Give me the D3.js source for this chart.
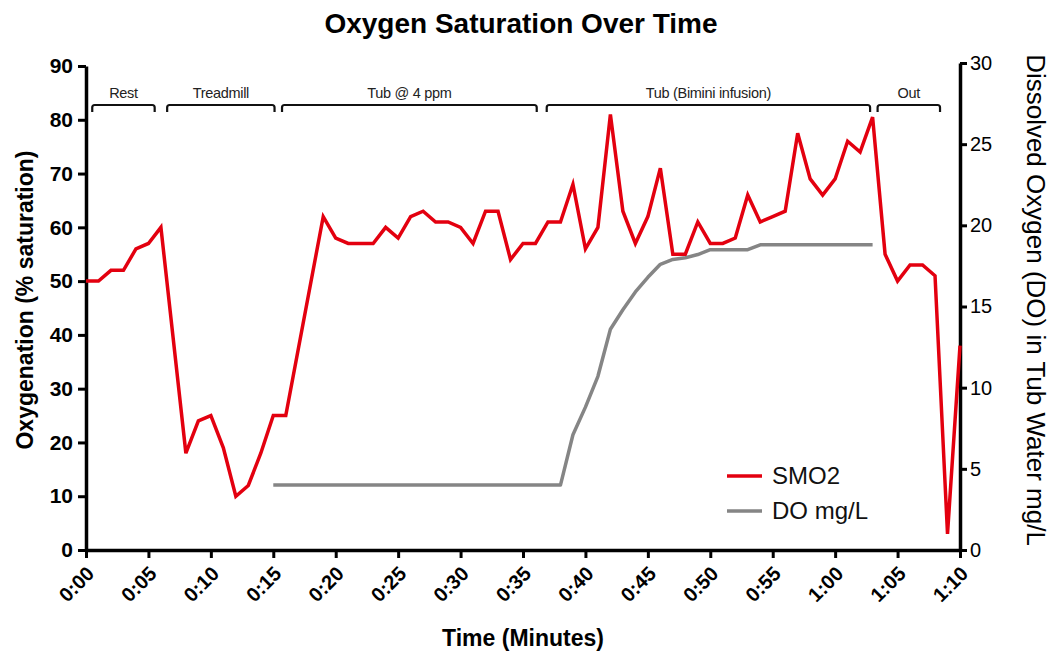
<!DOCTYPE html>
<html>
<head>
<meta charset="utf-8">
<script src="https://cdn.jsdelivr.net/npm/d3@7"></script>
<style>
  html, body { margin: 0; padding: 0; background: #fff; }
  svg { display: block; font-family: "Liberation Sans", Arial, Helvetica, sans-serif; }
</style>
</head>
<body>
<svg id="chart" width="1051" height="654"></svg>
<script>
// Muscle oxygen saturation (SMO2, %) by minute
const smoMinutes = [0,1,2,3,4,5,6,8,9,10,11,12,13,14,15,16,19,20,21,22,23,24,25,26,27,28,29,30,31,32,33,34,35,36,37,38,39,40,41,42,43,44,45,46,47,48,49,50,51,52,53,54,55,56,57,58,59,60,61,62,63,64,65,66,67,68,69,70];
const smoValues  = [50,50,52,52,56,57,60,18,24,25,19,10,12,18,25,25,62,58,57,57,57,60,58,62,63,61,61,60,57,63,63,54,57,57,61,61,68,56,60,81,63,57,62,71,55,55,61,57,57,58,66,61,62,63,77.5,69,66,69,76,74,80.5,55,50,53,53,51,3,38];

// Dissolved oxygen in the tub water (mg/L)
const doMinutes = [15,38,39,40,41,42,43,44,45,46,47,48,49,50,53,54,63];
const doValues  = [4,4,7.1,8.8,10.7,13.6,14.8,15.9,16.8,17.6,17.9,18,18.2,18.5,18.5,18.8,18.8];

// Session phases (start / end minute)
const phaseNames = ["Rest","Treadmill","Tub @ 4 ppm","Tub (Bimini infusion)","Out"];
const phaseStart = [0.5,6.5,15.7,36.9,63.4];
const phaseEnd   = [5.5,15.1,36.1,62.8,68.4];

// Axis ticks
const timeTicks = [0,5,10,15,20,25,30,35,40,45,50,55,60,65,70];
const leftTicks = [0,10,20,30,40,50,60,70,80,90];
const rightTicks = [0,5,10,15,20,25,30];

const seriesNames = ["SMO2","DO mg/L"];
const RED = "#e3000f", GRAY = "#858585";

const svg = d3.select("#chart");

const x = d3.scaleLinear().domain([0,70]).range([86,960]);
const yL = d3.scaleLinear().domain([0,90]).range([550,66]);
const yR = d3.scaleLinear().domain([0,30]).range([550,63]);

const fmtTime = m => Math.floor(m/60) + ":" + String(m % 60).padStart(2,"0");

// Title
svg.append("text").attr("x",521).attr("y",33).attr("text-anchor","middle")
  .attr("font-size",28).attr("font-weight","bold").text("Oxygen Saturation Over Time");

// X axis
const gx = svg.append("g").attr("transform","translate(0,550)")
  .call(d3.axisBottom(x).tickValues(timeTicks).tickFormat(fmtTime).tickSize(8).tickSizeOuter(0));
gx.select(".domain").attr("stroke","#000").attr("stroke-width",3.5);
gx.selectAll(".tick line").attr("stroke","#000").attr("stroke-width",3);
gx.selectAll(".tick text")
  .attr("font-size",20).attr("font-weight","bold").attr("fill","#000")
  .attr("text-anchor","end").attr("dy","0.35em").attr("y",0)
  .attr("transform","translate(4,20) rotate(-45)");

// Left axis
const gl = svg.append("g").attr("transform","translate(86,0)")
  .call(d3.axisLeft(yL).tickValues(leftTicks).tickSize(8).tickPadding(5).tickSizeOuter(0));
gl.select(".domain").attr("stroke","#000").attr("stroke-width",3.5);
gl.selectAll(".tick line").attr("stroke","#000").attr("stroke-width",3);
gl.selectAll(".tick text").attr("font-size",21).attr("font-weight","bold").attr("fill","#000");

// Right axis
const gr = svg.append("g").attr("transform","translate(960,0)")
  .call(d3.axisRight(yR).tickValues(rightTicks).tickSize(7).tickPadding(3).tickSizeOuter(0));
gr.select(".domain").attr("stroke","#000").attr("stroke-width",3.5);
gr.selectAll(".tick line").attr("stroke","#000").attr("stroke-width",3);
gr.selectAll(".tick text").attr("font-size",20).attr("fill","#000");

// Axis titles
svg.append("text").attr("transform","translate(33,300) rotate(-90)").attr("text-anchor","middle")
  .attr("font-size",23).attr("font-weight","bold").text("Oxygenation (% saturation)");
svg.append("text").attr("transform","translate(1027,300) rotate(90)").attr("text-anchor","middle")
  .attr("font-size",26).text("Dissolved Oxygen (DO) in Tub Water mg/L");
svg.append("text").attr("x",523).attr("y",646).attr("text-anchor","middle")
  .attr("font-size",23).attr("font-weight","bold").text("Time (Minutes)");

// Phase brackets
const bracketY = 105, hook = 7, r = 2.5;
phaseNames.forEach((name, i) => {
  const x1 = x(phaseStart[i]), x2 = x(phaseEnd[i]);
  const p = d3.path();
  p.moveTo(x1, bracketY + hook);
  p.lineTo(x1, bracketY + r);
  p.quadraticCurveTo(x1, bracketY, x1 + r, bracketY);
  p.lineTo(x2 - r, bracketY);
  p.quadraticCurveTo(x2, bracketY, x2, bracketY + r);
  p.lineTo(x2, bracketY + hook);
  svg.append("path").attr("d", p.toString()).attr("fill","none")
    .attr("stroke","#111").attr("stroke-width",2.2);
  svg.append("text").attr("x",(x1+x2)/2).attr("y",bracketY-7).attr("text-anchor","middle")
    .attr("font-size",14.5).attr("fill","#222").attr("letter-spacing","-0.3").text(name);
});

// Series lines
const doLine = d3.line().x((d,i) => x(doMinutes[i])).y(d => yR(d));
svg.append("path").datum(doValues).attr("d", doLine).attr("fill","none")
  .attr("stroke",GRAY).attr("stroke-width",3.5).attr("stroke-linejoin","round");

const smoLine = d3.line().x((d,i) => x(smoMinutes[i])).y(d => yL(d));
svg.append("path").datum(smoValues).attr("d", smoLine).attr("fill","none")
  .attr("stroke",RED).attr("stroke-width",3.5).attr("stroke-linejoin","miter");

// Legend
const legend = svg.append("g");
[RED, GRAY].forEach((c, i) => {
  const ly = 476 + i*35;
  legend.append("line").attr("x1",727).attr("x2",762).attr("y1",ly).attr("y2",ly)
    .attr("stroke",c).attr("stroke-width",3.5);
  legend.append("text").attr("x",772).attr("y",ly).attr("dy","0.35em")
    .attr("font-size",24).attr("fill","#111").text(seriesNames[i]);
});
</script>
</body>
</html>
